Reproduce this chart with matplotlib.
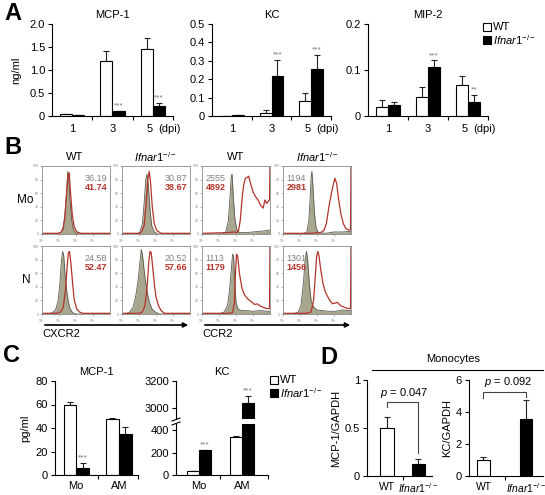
import matplotlib
matplotlib.use('Agg')
import matplotlib.pyplot as plt
import numpy as np
from matplotlib.patches import Rectangle, FancyArrowPatch
from matplotlib.lines import Line2D

plt.rcParams['font.family'] = ['Liberation Sans', 'DejaVu Sans']
plt.rcParams['font.size'] = 8
plt.rcParams['mathtext.fontset'] = 'custom'
plt.rcParams['mathtext.rm'] = 'Liberation Sans'
plt.rcParams['mathtext.it'] = 'Liberation Sans:italic'

KO = r'$\mathit{Ifnar1}^{\mathit{-/-}}$'

# ---------------- panel A: lung cytokines (ng/ml) ----------------
days = ['1', '3', '5']
mcp1_wt = [0.04, 1.20, 1.46]
mcp1_wt_err = [0.01, 0.22, 0.23]
mcp1_ko = [0.02, 0.11, 0.22]
mcp1_ko_err = [0.005, 0.005, 0.07]
mcp1_stars = ['', '***', '***']

kc_wt = [0.0, 0.018, 0.081]
kc_wt_err = [0.0, 0.013, 0.042]
kc_ko = [0.005, 0.216, 0.258]
kc_ko_err = [0.002, 0.09, 0.074]
kc_stars = ['', '***', '***']

mip2_wt = [0.020, 0.042, 0.067]
mip2_wt_err = [0.015, 0.021, 0.021]
mip2_ko = [0.024, 0.106, 0.031]
mip2_ko_err = [0.006, 0.015, 0.015]
mip2_stars = ['', '***', '**']

# ---------------- panel B: flow histograms (decade, % of max) ----------------
mo_cxcr2_wt_iso = [(0, 0), (0.9, 0), (1.1, 2), (1.25, 10), (1.35, 30), (1.45, 65), (1.52, 92), (1.58, 80),
                   (1.65, 50), (1.75, 20), (1.85, 7), (2.0, 1), (2.2, 0), (4.0, 0)]
mo_cxcr2_wt_ab = [(0, 1), (0.9, 1), (1.1, 2), (1.25, 8), (1.35, 25), (1.45, 60), (1.53, 88), (1.6, 90),
                  (1.68, 60), (1.78, 28), (1.9, 10), (2.05, 3), (2.3, 1), (4.0, 1)]
mo_cxcr2_ko_iso = [(0, 0), (0.9, 0), (1.05, 3), (1.2, 15), (1.3, 45), (1.4, 80), (1.47, 88), (1.55, 70),
                   (1.65, 35), (1.75, 12), (1.9, 3), (2.1, 0), (4.0, 0)]
mo_cxcr2_ko_ab = [(0, 1), (1.0, 1), (1.15, 3), (1.3, 12), (1.42, 45), (1.52, 80), (1.6, 92), (1.68, 75),
                  (1.78, 40), (1.9, 15), (2.05, 5), (2.3, 1), (4.0, 1)]
mo_ccr2_wt_iso = [(0, 0), (1.2, 0), (1.4, 3), (1.55, 20), (1.65, 55), (1.72, 85), (1.77, 88), (1.83, 60),
                  (1.92, 25), (2.05, 6), (2.2, 2), (2.6, 2), (3.0, 3), (3.4, 4), (3.8, 5), (4.0, 6)]
mo_ccr2_wt_ab = [(0, 1), (1.5, 2), (1.9, 3), (2.05, 2), (2.15, 5), (2.25, 20), (2.35, 50), (2.45, 72),
                 (2.55, 82), (2.65, 83), (2.75, 85), (2.85, 75), (3.0, 62), (3.15, 55), (3.3, 50), (3.45, 42),
                 (3.6, 38), (3.7, 50), (3.8, 45), (3.9, 48), (3.97, 50), (4.0, 100)]
mo_ccr2_ko_iso = [(0, 0), (1.2, 0), (1.4, 3), (1.52, 20), (1.6, 55), (1.66, 85), (1.7, 92), (1.76, 70),
                  (1.85, 30), (1.95, 8), (2.1, 2), (2.5, 1), (3.0, 3), (3.5, 3), (4.0, 4)]
mo_ccr2_ko_ab = [(0, 1), (1.5, 1), (2.2, 2), (2.4, 5), (2.55, 15), (2.7, 40), (2.85, 60), (2.95, 72),
                 (3.05, 82), (3.15, 75), (3.25, 55), (3.4, 30), (3.55, 15), (3.7, 8), (3.85, 6), (3.97, 6),
                 (4.0, 100)]
n_cxcr2_wt_iso = [(0, 0), (0.4, 0), (0.6, 2), (0.8, 6), (0.95, 20), (1.05, 45), (1.15, 80), (1.22, 92),
                  (1.28, 85), (1.35, 60), (1.45, 35), (1.55, 18), (1.65, 8), (1.8, 2), (2.0, 0), (4.0, 0)]
n_cxcr2_wt_ab = [(0, 1), (0.9, 1), (1.1, 3), (1.25, 10), (1.38, 35), (1.48, 70), (1.55, 90), (1.62, 92),
                 (1.7, 75), (1.8, 45), (1.9, 20), (2.05, 7), (2.2, 3), (2.4, 1), (4.0, 1)]
n_cxcr2_ko_iso = [(0, 0), (0.2, 0), (0.45, 3), (0.65, 10), (0.8, 25), (0.95, 50), (1.05, 75), (1.13, 95),
                  (1.2, 88), (1.3, 65), (1.4, 45), (1.5, 30), (1.6, 18), (1.75, 8), (1.95, 3), (2.2, 0),
                  (4.0, 0)]
n_cxcr2_ko_ab = [(0, 1), (1.0, 1), (1.2, 3), (1.35, 12), (1.48, 40), (1.58, 78), (1.65, 92), (1.72, 90),
                 (1.8, 70), (1.9, 45), (2.0, 25), (2.15, 12), (2.3, 5), (2.5, 1), (4.0, 1)]
n_ccr2_wt_iso = [(0, 0), (1.0, 0), (1.3, 3), (1.5, 12), (1.62, 35), (1.72, 65), (1.8, 88), (1.86, 85),
                 (1.92, 50), (2.0, 18), (2.1, 8), (2.3, 5), (2.6, 5), (3.0, 4), (3.4, 5), (3.8, 4), (4.0, 4)]
n_ccr2_wt_ab = [(0, 1), (1.5, 1), (1.8, 2), (1.9, 15), (1.97, 60), (2.03, 88), (2.1, 85), (2.2, 60),
                (2.35, 38), (2.5, 28), (2.7, 22), (2.9, 18), (3.1, 14), (3.25, 15), (3.4, 12), (3.6, 10),
                (3.8, 8), (3.97, 8), (4.0, 100)]
n_ccr2_ko_iso = [(0, 0), (0.6, 0), (0.9, 3), (1.05, 12), (1.2, 45), (1.3, 80), (1.38, 92), (1.45, 80),
                 (1.55, 45), (1.65, 20), (1.8, 10), (2.0, 6), (2.3, 5), (2.7, 4), (3.1, 4), (3.5, 6),
                 (3.8, 5), (4.0, 5)]
n_ccr2_ko_ab = [(0, 1), (1.4, 1), (1.65, 3), (1.8, 20), (1.9, 55), (1.98, 85), (2.05, 92), (2.12, 85),
                (2.22, 65), (2.35, 45), (2.5, 32), (2.7, 22), (2.9, 15), (3.05, 16), (3.2, 17), (3.4, 12),
                (3.6, 10), (3.8, 8), (3.97, 8), (4.0, 100)]

flow_iso_mfi = [['36.19', '30.87', '2555', '1194'], ['24.58', '20.52', '1113', '1301']]
flow_ab_mfi = [['41.74', '38.67', '4892', '2981'], ['52.47', '57.66', '1179', '1456']]

# ---------------- panel C: culture supernatant (pg/ml) ----------------
cells = ['Mo', 'AM']
c_mcp1_wt = [60, 48]
c_mcp1_wt_err = [2.5, 0.8]
c_mcp1_ko = [6, 35]
c_mcp1_ko_err = [4.5, 5.5]
c_mcp1_stars = ['***', '']
c_kc_wt = [40, 335]
c_kc_wt_err = [0, 15]
c_kc_ko = [222, 3040]
c_kc_ko_err = [5, 50]
c_kc_stars = ['***', '***']

# ---------------- panel D: monocyte mRNA / GAPDH ----------------
d_mcp1 = [0.50, 0.12]
d_mcp1_err = [0.11, 0.055]
d_kc = [1.0, 3.55]
d_kc_err = [0.2, 1.2]

W, H = 545, 495
fig = plt.figure(figsize=(W / 100, H / 100), dpi=100)


def fx(px):
    return px / W


def fy(py):
    return 1 - py / H


def px_axes(l, t, r, b):
    return fig.add_axes([fx(l), fy(b), (r - l) / W, (b - t) / H])


def style_axes(ax):
    for s in ['top', 'right']:
        ax.spines[s].set_visible(False)
    for s in ['left', 'bottom']:
        ax.spines[s].set_linewidth(0.8)
    ax.tick_params(length=3, width=0.8, labelsize=8, pad=2)


def grouped_bars(ax, wt, wt_err, ko, ko_err, width, stars, star_pad=1):
    x = np.arange(len(wt))
    ax.bar(x - width / 2, wt, width, color='white', edgecolor='black', lw=0.8, zorder=2)
    ax.bar(x + width / 2, ko, width, color='black', edgecolor='black', lw=0.8, zorder=2)
    ax.errorbar(x - width / 2, wt, yerr=[np.zeros(len(wt)), wt_err], fmt='none', ecolor='#222',
                elinewidth=0.8, capsize=2.5, capthick=0.8, zorder=1)
    ax.errorbar(x + width / 2, ko, yerr=[np.zeros(len(ko)), ko_err], fmt='none', ecolor='#222',
                elinewidth=0.8, capsize=2.5, capthick=0.8, zorder=1)
    lo, hi = ax.get_ylim()
    for i, s in enumerate(stars):
        if s:
            ax.annotate(s, (x[i] + width / 2, ko[i] + ko_err[i]), xytext=(0, star_pad),
                        textcoords='offset points', ha='center', va='bottom', fontsize=6,
                        color='#777777')


def category_axis(ax, labels, xlim, seps, pad=6):
    ax.set_xlim(*xlim)
    ax.set_xticks(seps)
    ax.set_xticklabels([])
    ax.set_xticks(np.arange(len(labels)), minor=True)
    ax.set_xticklabels(labels, minor=True)
    ax.tick_params(axis='x', which='minor', length=0, pad=pad, labelsize=8)


def key(x, y, label, fill):
    fig.add_artist(Rectangle((fx(x), fy(y + 8)), 8 / W, 8 / H, transform=fig.transFigure,
                             facecolor=fill, edgecolor='black', lw=0.8))
    fig.text(fx(x + 10), fy(y + 4), label, ha='left', va='center', fontsize=8)


def letter(x, y, s):
    fig.text(fx(x), fy(y), s, fontsize=17, fontweight='bold', ha='center', va='center')


# ---------------- A ----------------
letter(13, 14, 'A')
a_specs = [
    ((52, 24, 173, 116), 'MCP-1', mcp1_wt, mcp1_wt_err, mcp1_ko, mcp1_ko_err, mcp1_stars,
     (0, 2.0), [0, 0.5, 1.0, 1.5, 2.0], ['0', '0.5', '1.0', '1.5', '2.0']),
    ((212, 24, 331, 116), 'KC', kc_wt, kc_wt_err, kc_ko, kc_ko_err, kc_stars,
     (0, 0.5), [0, 0.1, 0.2, 0.3, 0.4, 0.5], ['0', '0.1', '0.2', '0.3', '0.4', '0.5']),
    ((368, 24, 488, 116), 'MIP-2', mip2_wt, mip2_wt_err, mip2_ko, mip2_ko_err, mip2_stars,
     (0, 0.2), [0, 0.1, 0.2], ['0', '0.1', '0.2']),
]
for rect, title, wt, we, ko, ke, st, ylim, yt, ytl in a_specs:
    ax = px_axes(*rect)
    style_axes(ax)
    ax.set_ylim(*ylim)
    grouped_bars(ax, wt, we, ko, ke, 0.3, st)
    # last day label is written together with its unit, slightly left of centre
    category_axis(ax, days[:-1] + [''], (-0.5, 2.5), [0.5, 1.5, 2.5])
    for lab, xpos in [(days[-1], 1.92), ('(dpi)', 2.42)]:
        ax.annotate(lab, (xpos, 0), xycoords=('data', 'axes fraction'), xytext=(0, -6),
                    textcoords='offset points', ha='center', va='top', fontsize=8,
                    annotation_clip=False)
    ax.set_ylim(*ylim)
    ax.set_yticks(yt)
    ax.set_yticklabels(ytl)
    ax.set_title(title, fontsize=8, pad=4)
    if title == 'MCP-1':
        ax.set_ylabel('ng/ml', fontsize=8, labelpad=6)
key(483, 23, 'WT', 'white')
key(483, 36, KO, 'black')

# ---------------- B ----------------
letter(13, 148, 'B')
flow_cols = [42, 122, 202, 283]
flow_rows = [(166, 234), (246, 314)]
flow_data = [
    [(mo_cxcr2_wt_iso, mo_cxcr2_wt_ab), (mo_cxcr2_ko_iso, mo_cxcr2_ko_ab),
     (mo_ccr2_wt_iso, mo_ccr2_wt_ab), (mo_ccr2_ko_iso, mo_ccr2_ko_ab)],
    [(n_cxcr2_wt_iso, n_cxcr2_wt_ab), (n_cxcr2_ko_iso, n_cxcr2_ko_ab),
     (n_ccr2_wt_iso, n_ccr2_wt_ab), (n_ccr2_ko_iso, n_ccr2_ko_ab)],
]
for r, (t, b) in enumerate(flow_rows):
    for c, l in enumerate(flow_cols):
        ax = px_axes(l, t, l + 68, b)
        iso, ab = flow_data[r][c]
        ix = [10 ** p[0] for p in iso]
        iy = [p[1] for p in iso]
        bx = [10 ** p[0] for p in ab]
        by = [p[1] for p in ab]
        ax.fill_between(ix, iy, color='#a9a690', lw=0)
        ax.plot(ix, iy, color='#5c5b4e', lw=0.6)
        ax.plot(bx, by, color='#b3342a', lw=0.9)
        ax.set_xscale('log')
        ax.set_xlim(1, 1e4)
        ax.set_ylim(0, 100)
        ax.set_xticks([1, 10, 100, 1000])
        ax.set_xticklabels([r'$10^0$', r'$10^1$', r'$10^2$', r'$10^3$'])
        ax.xaxis.set_minor_locator(matplotlib.ticker.NullLocator())
        ax.set_yticks([0, 20, 40, 60, 80, 100])
        ax.tick_params(length=1.5, width=0.4, labelsize=2.5, pad=1, colors='#888888')
        for s in ax.spines.values():
            s.set_color('#8a8a8a')
            s.set_linewidth(0.6)
        if c < 2:
            xt, ha = 0.96, 'right'
        else:
            xt, ha = 0.05, 'left'
        ax.text(xt, 0.82, flow_iso_mfi[r][c], transform=ax.transAxes, ha=ha, va='center',
                fontsize=6.5, color='#808080')
        ax.text(xt, 0.69, flow_ab_mfi[r][c], transform=ax.transAxes, ha=ha, va='center',
                fontsize=6.5, color='#b3342a', fontweight='bold')

for cx, s in zip([75, 155, 236, 317], ['WT', KO, 'WT', KO]):
    fig.text(fx(cx), fy(157), s, ha='center', va='center', fontsize=8)
fig.text(fx(25), fy(200), 'Mo', ha='center', va='center', fontsize=8.5)
fig.text(fx(26), fy(280), 'N', ha='center', va='center', fontsize=8.5)
for x0, x1, lab in [(42, 191, 'CXCR2'), (202, 353, 'CCR2')]:
    fig.add_artist(FancyArrowPatch((fx(x0), fy(325)), (fx(x1), fy(325)), transform=fig.transFigure,
                                   arrowstyle='-|>', mutation_scale=7, lw=1.2, color='black'))
    fig.text(fx(x0), fy(334), lab, ha='left', va='center', fontsize=8)

# ---------------- C ----------------
letter(12, 356, 'C')
ax = px_axes(55, 381, 138, 475)
style_axes(ax)
ax.set_ylim(0, 80)
grouped_bars(ax, c_mcp1_wt, c_mcp1_wt_err, c_mcp1_ko, c_mcp1_ko_err, 0.3, c_mcp1_stars)
category_axis(ax, cells, (-0.5, 1.45), [0.5, 1.45], pad=4)
ax.set_ylim(0, 80)
ax.set_yticks([0, 20, 40, 60, 80])
ax.set_title('MCP-1', fontsize=8, pad=4)
ax.set_ylabel('pg/ml', fontsize=8, labelpad=4)

# KC with broken axis: the lower part carries the Mo star, the upper part the AM star
axl = px_axes(176, 424, 268, 475)
axu = px_axes(176, 381, 268, 419)
axl.set_ylim(0, 455)
axu.set_ylim(2920, 3200)
style_axes(axl)
style_axes(axu)
grouped_bars(axl, c_kc_wt, c_kc_wt_err, c_kc_ko, c_kc_ko_err, 0.28, [c_kc_stars[0], ''])
grouped_bars(axu, c_kc_wt, c_kc_wt_err, c_kc_ko, c_kc_ko_err, 0.28, ['', c_kc_stars[1]])
axl.set_ylim(0, 455)
axl.set_yticks([0, 200, 400])
category_axis(axl, cells, (-0.53, 1.6), [0.5, 1.6], pad=4)
axu.set_ylim(2920, 3200)
axu.set_yticks([3000, 3200])
axu.set_xlim(-0.53, 1.6)
axu.spines['bottom'].set_visible(False)
axu.set_xticks([])
axu.set_title('KC', fontsize=8, pad=4)
for yb in (419.5, 423.5):
    fig.add_artist(Line2D([fx(172), fx(180)], [fy(yb + 1.5), fy(yb - 1.5)], transform=fig.transFigure,
                          color='black', lw=0.8))
key(270, 376, 'WT', 'white')
key(270, 389, KO, 'black')

# ---------------- D ----------------
letter(329, 357, 'D')
fig.text(fx(453), fy(359), 'Monocytes', ha='center', va='center', fontsize=8)
fig.add_artist(Line2D([fx(372), fx(543)], [fy(370), fy(370)], transform=fig.transFigure,
                      color='black', lw=0.8))

d_specs = [
    ((367, 380, 432, 476), d_mcp1, d_mcp1_err, 0.42, (-0.635, 1.43), (0, 1), [0, 0.5, 1], ['0', '0.5', '1'],
     'MCP-1/GAPDH', (0.77, 0.72, 0.235), (0.55, 0.86), 'p = 0.047'),
    ((469, 380, 543, 476), d_kc, d_kc_err, 0.3, (-0.34, 1.4), (0, 6), [0, 2, 4, 6], ['0', '2', '4', '6'],
     'KC/GAPDH', (5.27, 4.85, 4.95), (0.58, 5.85), 'p = 0.092'),
]
for rect, vals, errs, wdt, xlim, ylim, yt, ytl, ylab, brk, ptxt, pval in d_specs:
    ax = px_axes(*rect)
    style_axes(ax)
    x = np.arange(2)
    ax.bar(x, vals, wdt, color=['white', 'black'], edgecolor='black', lw=0.8, zorder=2)
    ax.errorbar(x, vals, yerr=[np.zeros(2), errs], fmt='none', ecolor='#222', elinewidth=0.8,
                capsize=2.5, capthick=0.8, zorder=1)
    ax.set_xlim(*xlim)
    ax.set_xticks([0.5])
    ax.set_xticklabels([])
    ax.set_xticks(x, minor=True)
    ax.set_xticklabels(['WT', KO], minor=True)
    ax.tick_params(axis='x', which='minor', length=0, pad=4, labelsize=7.5)
    ax.set_ylim(*ylim)
    ax.set_yticks(yt)
    ax.set_yticklabels(ytl)
    ax.set_ylabel(ylab, fontsize=8, labelpad=3)
    top, lleg, rleg = brk
    ax.plot([0, 0, 1, 1], [lleg, top, top, rleg], color='#444', lw=0.8, clip_on=False)
    ax.text(ptxt[0], ptxt[1], r'$\mathit{p}$' + pval[1:], ha='center', va='center', fontsize=8,
            clip_on=False)

fig.savefig('out.png', dpi=100)
